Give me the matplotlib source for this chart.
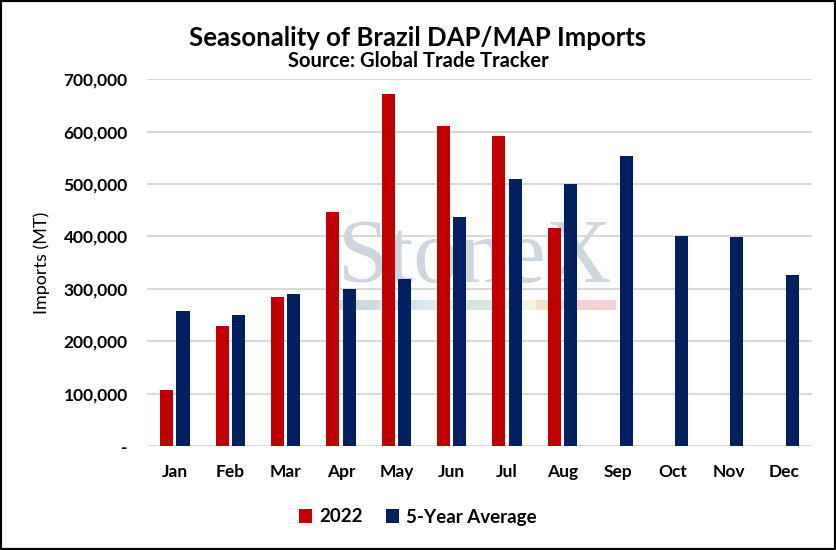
import numpy as np
import matplotlib.pyplot as plt
from matplotlib.patches import Rectangle
from matplotlib.ticker import FuncFormatter

months = ['Jan', 'Feb', 'Mar', 'Apr', 'May', 'Jun', 'Jul', 'Aug', 'Sep', 'Oct', 'Nov', 'Dec']
imports_2022 = [107000, 229000, 284000, 446000, 671000, 610000, 591000, 416000, np.nan, np.nan, np.nan, np.nan]
avg_5yr = [257000, 250000, 290000, 300000, 318000, 437000, 509000, 500000, 553000, 400000, 399000, 326000]

plt.rcParams['font.family'] = ['Lato', 'DejaVu Sans']
plt.rcParams['font.weight'] = 'bold'

fig = plt.figure(figsize=(8.36, 5.5), dpi=100)
ax = fig.add_axes([0.176, 0.189, 0.795, 0.667])

x = np.arange(len(months))
w = 0.235
ax.bar(x - w/2 - 0.03, imports_2022, w, color='#c00000', label='2022', zorder=3)
ax.bar(x + w/2 + 0.03, avg_5yr, w, color='#002060', label='5-Year Average', zorder=3)

# StoneX watermark
ax.text(0.493, 0.447, 'StoneX', transform=ax.transAxes, fontsize=66, family='Liberation Serif',
        weight='normal', color='#cdd5de', ha='center', va='baseline', zorder=1)
strip = ['#cfd7df', '#d6e2ec', '#dbe9f3', '#d7e6dd', '#f4f2dc', '#f6e2cc', '#f1d1d3']
for i, c in enumerate(strip):
    ax.add_patch(Rectangle((0.287 + i*0.0597, 0.37), 0.0597, 0.027, transform=ax.transAxes,
                           color=c, lw=0, zorder=1))

ax.set_xlim(-0.5, 11.5)
ax.set_ylim(0, 700000)
ax.set_yticks(np.arange(0, 700001, 100000))
ax.yaxis.set_major_formatter(FuncFormatter(lambda v, p: '-' if v == 0 else f'{int(v):,}'))
ax.set_xticks(x)
ax.set_xticklabels(months)
ax.tick_params(axis='both', length=0, labelsize=12.5)
ax.tick_params(axis='x', pad=13)
ax.tick_params(axis='y', pad=14)
ax.grid(axis='y', color='#d9d9d9', lw=1.5, zorder=0)
ax.set_axisbelow(True)
for s in ax.spines.values():
    s.set_visible(False)

ax.set_ylabel('Imports (MT)', fontsize=13, weight='normal', labelpad=10)

fig.text(0.5, 0.931, 'Seasonality of Brazil DAP/MAP Imports', ha='center', va='center', fontsize=18.5)
fig.text(0.5, 0.889, 'Source: Global Trade Tracker', ha='center', va='center', fontsize=14.5)

fig.legend(loc='center', bbox_to_anchor=(0.5, 0.06), ncol=2, frameon=False, fontsize=13.5,
           handlelength=0.7, handleheight=0.7, handletextpad=0.4, columnspacing=1.2)

fig.patches.append(Rectangle((0, 0), 1, 1, transform=fig.transFigure, fill=False,
                             edgecolor='black', lw=3))

fig.savefig('out.png', dpi=100)
